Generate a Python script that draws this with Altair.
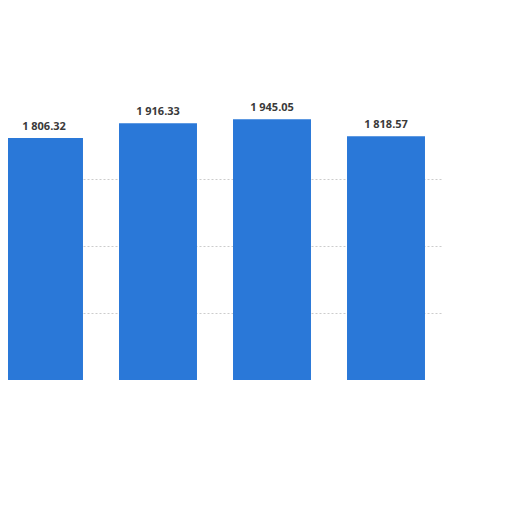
import altair as alt
import pandas as pd

categories = ["A", "B", "C", "D"]
values = [1806.32, 1916.33, 1945.05, 1818.57]
labels = ["1 806.32", "1 916.33", "1 945.05", "1 818.57"]

df = pd.DataFrame({"cat": categories, "value": values, "label": labels})

x = alt.X("cat:N", sort=categories, axis=None,
          scale=alt.Scale(range=[-21, 435], paddingInner=0.316, paddingOuter=0.158))
y = alt.Y("value:Q", scale=alt.Scale(domain=[0, 2000], nice=False),
          axis=alt.Axis(values=[500, 1000, 1500], grid=True, gridDash=[2, 2],
                        gridColor="#cccccc", domain=False, ticks=False, labels=False, title=None))

bars = alt.Chart(df).mark_bar(color="#2a78d8").encode(x=x, y=y)
text = alt.Chart(df).mark_text(dy=-11, fontSize=11, fontWeight="bold", color="#3a3a3a",
                               font="Open Sans").encode(x=x, y=y, text="label:N")

chart = (bars + text).properties(
    width=418, height=268,
    autosize=alt.AutoSizeParams(type="none"),
    padding={"left": 0, "top": 104, "right": 78, "bottom": 0},
).configure_view(stroke=None)

chart.save("out.html", embed_options={"renderer": "svg", "actions": False})
